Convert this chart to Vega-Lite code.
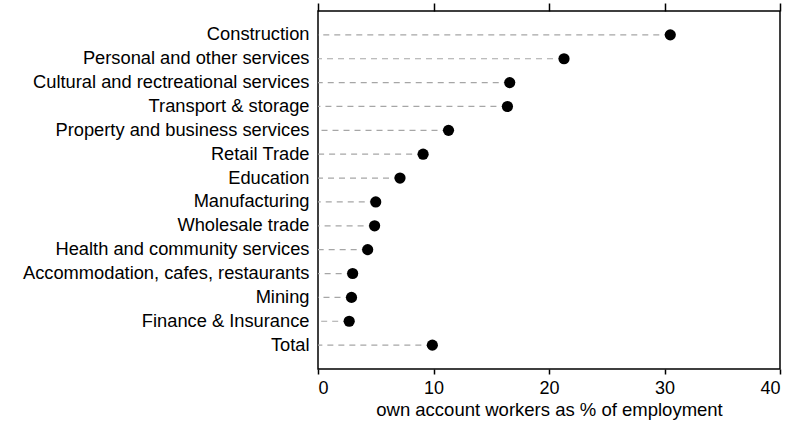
{
  "$schema": "https://vega.github.io/schema/vega-lite/v6.json",
  "width": 462,
  "height": 358,
  "autosize": {"type": "none"},
  "padding": {"left": 318, "top": 11, "right": 14, "bottom": 57},
  "background": "white",
  "config": {
    "font": "Liberation Sans",
    "view": {"stroke": "black", "strokeWidth": 1.5},
    "axis": {"labelColor": "black", "titleColor": "black", "labelFont": "Liberation Sans", "titleFont": "Liberation Sans"}
  },
  "data": {
    "values": [
      {"industry": "Construction", "value": 30.5},
      {"industry": "Personal and other services", "value": 21.3},
      {"industry": "Cultural and rectreational services", "value": 16.6},
      {"industry": "Transport & storage", "value": 16.4},
      {"industry": "Property and business services", "value": 11.3},
      {"industry": "Retail Trade", "value": 9.1},
      {"industry": "Education", "value": 7.1},
      {"industry": "Manufacturing", "value": 5.0},
      {"industry": "Wholesale trade", "value": 4.9},
      {"industry": "Health and community services", "value": 4.3},
      {"industry": "Accommodation, cafes, restaurants", "value": 3.0},
      {"industry": "Mining", "value": 2.9},
      {"industry": "Finance & Insurance", "value": 2.7},
      {"industry": "Total", "value": 9.9}
    ]
  },
  "encoding": {
    "y": {
      "field": "industry",
      "type": "nominal",
      "sort": null,
      "scale": {"type": "point", "padding": 1},
      "axis": {"title": null, "domain": false, "ticks": false, "labelPadding": 9, "labelFontSize": 18.3, "labelLimit": 400}
    }
  },
  "layer": [
    {
      "mark": {"type": "rule", "color": "#a6a6a6", "strokeDash": [6, 5], "strokeWidth": 1.2},
      "encoding": {
        "x": {
          "field": "value",
          "type": "quantitative",
          "scale": {"domain": [0, 40], "nice": false},
          "axis": {"orient": "bottom", "values": [0, 10, 20, 30, 40], "grid": false, "domain": false, "tickColor": "black", "tickSize": 5, "tickWidth": 1.5, "labelFontSize": 18, "labelPadding": 5, "title": "own account workers as % of employment", "titleFontSize": 18.5, "titleFontWeight": "normal", "titlePadding": 3}
        },
        "x2": {"datum": 0}
      }
    },
    {
      "mark": {"type": "point", "filled": true, "color": "black", "opacity": 1, "size": 125},
      "encoding": {
        "x": {
          "field": "value",
          "type": "quantitative",
          "scale": {"domain": [0, 40], "nice": false},
          "axis": {"orient": "top", "values": [0, 10, 20, 30, 40], "grid": false, "domain": false, "labels": false, "tickColor": "black", "tickSize": 8, "tickWidth": 1.5, "title": null}
        }
      }
    }
  ],
  "resolve": {"axis": {"x": "independent"}}
}
